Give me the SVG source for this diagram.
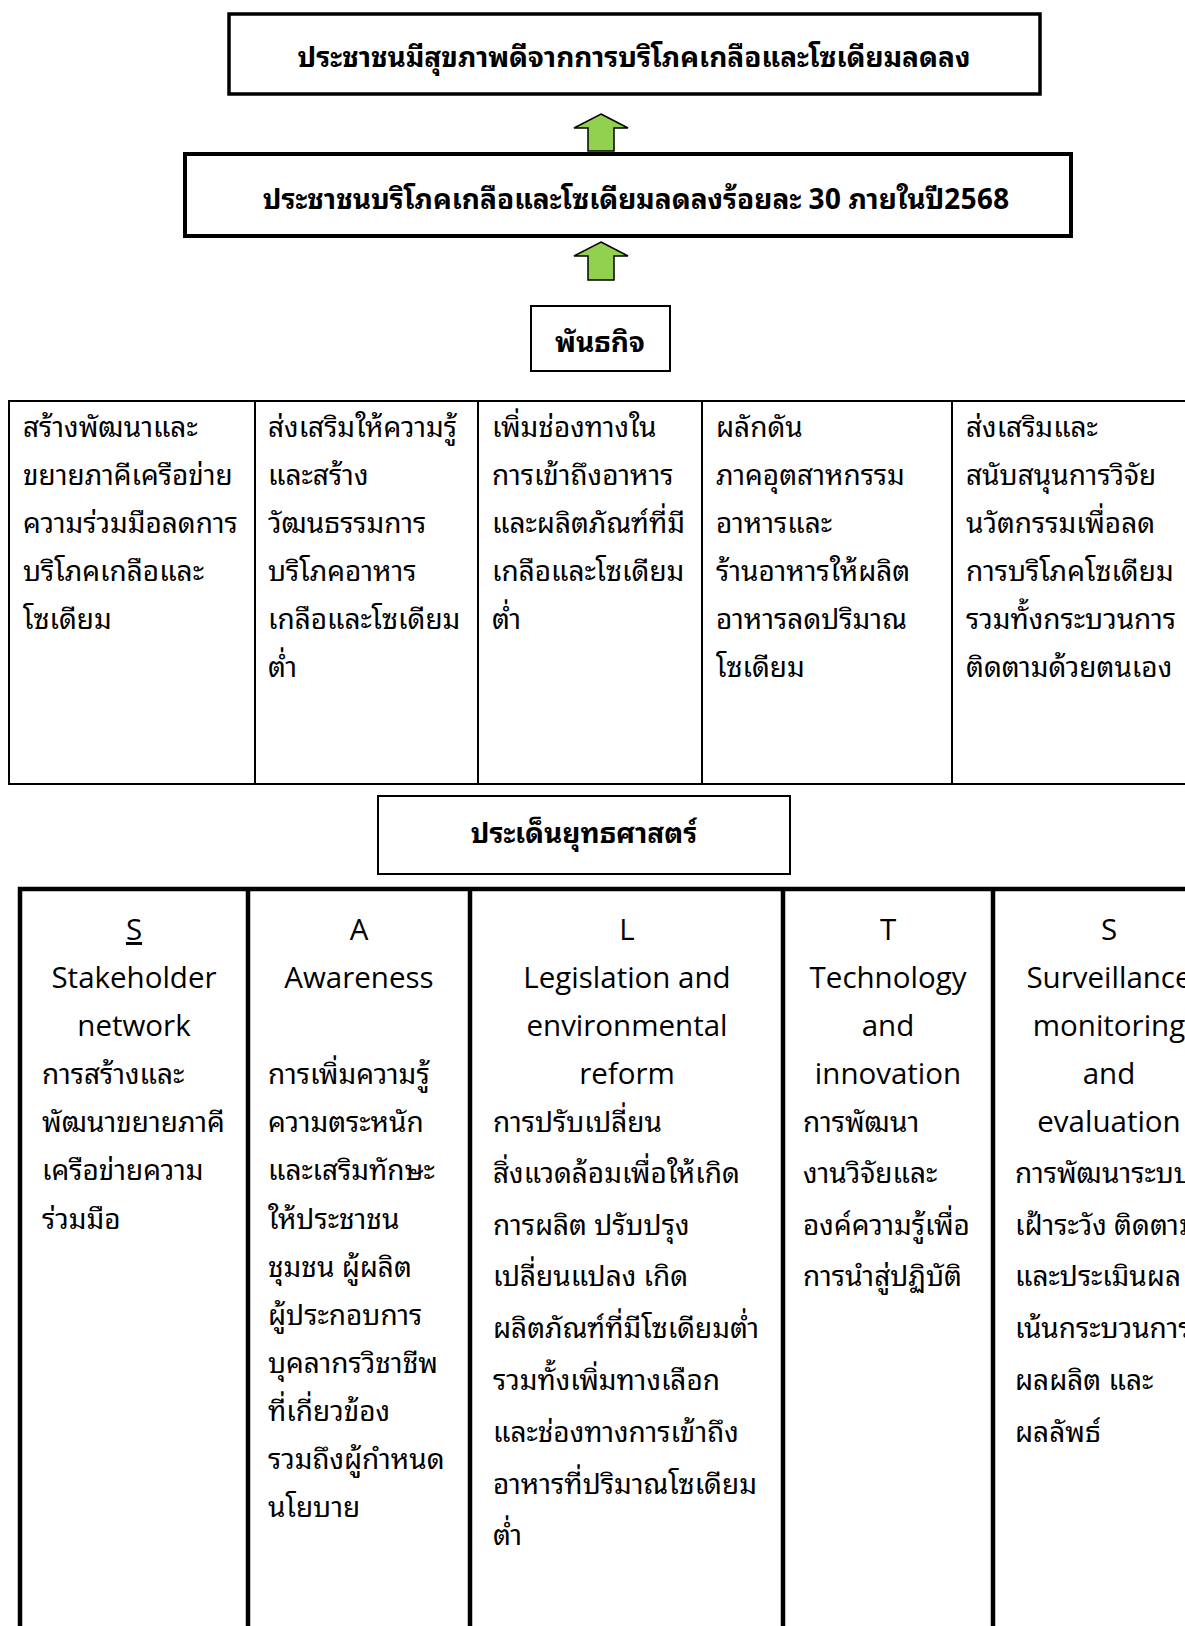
<svg xmlns="http://www.w3.org/2000/svg" width="1185" height="1626" viewBox="0 0 1185 1626">
<style>
.bg{fill:#ffffff}
.box{fill:#ffffff;stroke:#000000}
.ttl{font-family:"Noto Sans Thai Looped","Noto Serif Thai","Loma","Garuda","Noto Sans Thai","Noto Sans",sans-serif;font-weight:bold;font-size:28px;fill:#000;text-anchor:middle}
.th{font-family:"Noto Sans Thai Looped","Noto Serif Thai","Loma","Garuda","Noto Sans Thai","Noto Sans",sans-serif;font-size:28px;fill:#000}
.en{font-family:"Open Sans","Noto Sans",sans-serif;font-size:29.5px;fill:#000;text-anchor:middle}
.grid{stroke:#000;fill:none}
.arrow{fill:#92D050;stroke:#000;stroke-width:1.5;stroke-linejoin:miter}
</style>
<rect class="bg" x="0" y="0" width="1185" height="1626"/>

<g id="goal">
<rect class="box" x="229" y="14" width="811" height="80" stroke-width="3.5"/>
<text class="ttl" x="634" y="67">ประชาชนมีสุขภาพดีจากการบริโภคเกลือและโซเดียมลดลง</text>
</g>

<g id="target">
<rect class="box" x="185" y="154" width="886" height="82" stroke-width="4"/>
<text class="ttl" x="636" y="209">ประชาชนบริโภคเกลือและโซเดียมลดลงร้อยละ 30 ภายในปี2568</text>
</g>

<g id="mission-header">
<rect class="box" x="531" y="306" width="139" height="65" stroke-width="2"/>
<text class="ttl" x="600" y="352">พันธกิจ</text>
</g>

<g id="connectors">
<path class="arrow" d="M601,114 L628,128 L614,128 L614,151 L588,151 L588,128 L574,128 Z"/>
<path class="arrow" d="M601,242 L628,256 L614,256 L614,280 L588,280 L588,256 L574,256 Z"/>
</g>

<g id="mission-table">
<rect class="grid" x="9" y="401" width="1200" height="383" stroke-width="2"/>
<line class="grid" x1="255" y1="401" x2="255" y2="784" stroke-width="2"/>
<line class="grid" x1="478" y1="401" x2="478" y2="784" stroke-width="2"/>
<line class="grid" x1="702" y1="401" x2="702" y2="784" stroke-width="2"/>
<line class="grid" x1="952" y1="401" x2="952" y2="784" stroke-width="2"/>
</g>

<g id="mission-1">
<text class="th" x="23" y="437">สร้างพัฒนาและ</text>
<text class="th" x="23" y="485">ขยายภาคีเครือข่าย</text>
<text class="th" x="23" y="533">ความร่วมมือลดการ</text>
<text class="th" x="23" y="581">บริโภคเกลือและ</text>
<text class="th" x="23" y="629">โซเดียม</text>
</g>
<g id="mission-2">
<text class="th" x="268" y="437">ส่งเสริมให้ความรู้</text>
<text class="th" x="268" y="485">และสร้าง</text>
<text class="th" x="268" y="533">วัฒนธรรมการ</text>
<text class="th" x="268" y="581">บริโภคอาหาร</text>
<text class="th" x="268" y="629">เกลือและโซเดียม</text>
<text class="th" x="268" y="677">ต่ำ</text>
</g>
<g id="mission-3">
<text class="th" x="492" y="437">เพิ่มช่องทางใน</text>
<text class="th" x="492" y="485">การเข้าถึงอาหาร</text>
<text class="th" x="492" y="533">และผลิตภัณฑ์ที่มี</text>
<text class="th" x="492" y="581">เกลือและโซเดียม</text>
<text class="th" x="492" y="629">ต่ำ</text>
</g>
<g id="mission-4">
<text class="th" x="716" y="437">ผลักดัน</text>
<text class="th" x="716" y="485">ภาคอุตสาหกรรม</text>
<text class="th" x="716" y="533">อาหารและ</text>
<text class="th" x="716" y="581">ร้านอาหารให้ผลิต</text>
<text class="th" x="716" y="629">อาหารลดปริมาณ</text>
<text class="th" x="716" y="677">โซเดียม</text>
</g>
<g id="mission-5">
<text class="th" x="966" y="437">ส่งเสริมและ</text>
<text class="th" x="966" y="485">สนับสนุนการวิจัย</text>
<text class="th" x="966" y="533">นวัตกรรมเพื่อลด</text>
<text class="th" x="966" y="581">การบริโภคโซเดียม</text>
<text class="th" x="966" y="629">รวมทั้งกระบวนการ</text>
<text class="th" x="966" y="677">ติดตามด้วยตนเอง</text>
</g>

<g id="strategy-header">
<rect class="box" x="378" y="796" width="412" height="78" stroke-width="2"/>
<text class="ttl" x="584" y="843">ประเด็นยุทธศาสตร์</text>
</g>

<g id="strategy-table">
<rect class="grid" x="20" y="889" width="1200" height="800" stroke-width="4.5"/>
<line class="grid" x1="248" y1="889" x2="248" y2="1626" stroke-width="4.5"/>
<line class="grid" x1="470" y1="889" x2="470" y2="1626" stroke-width="4.5"/>
<line class="grid" x1="783" y1="889" x2="783" y2="1626" stroke-width="4.5"/>
<line class="grid" x1="993" y1="889" x2="993" y2="1626" stroke-width="4.5"/>
</g>

<g id="strategy-S1">
<text class="en" x="134" y="940" text-decoration="underline">S</text>
<text class="en" x="134" y="988">Stakeholder</text>
<text class="en" x="134" y="1036">network</text>
<text class="th" x="42" y="1084">การสร้างและ</text>
<text class="th" x="42" y="1132">พัฒนาขยายภาคี</text>
<text class="th" x="42" y="1180">เครือข่ายความ</text>
<text class="th" x="42" y="1229">ร่วมมือ</text>
</g>
<g id="strategy-A">
<text class="en" x="359" y="940">A</text>
<text class="en" x="359" y="988">Awareness</text>
<text class="th" x="268" y="1084">การเพิ่มความรู้</text>
<text class="th" x="268" y="1132">ความตระหนัก</text>
<text class="th" x="268" y="1180">และเสริมทักษะ</text>
<text class="th" x="268" y="1229">ให้ประชาชน</text>
<text class="th" x="268" y="1277">ชุมชน ผู้ผลิต</text>
<text class="th" x="268" y="1325">ผู้ประกอบการ</text>
<text class="th" x="268" y="1373">บุคลากรวิชาชีพ</text>
<text class="th" x="268" y="1421">ที่เกี่ยวข้อง</text>
<text class="th" x="268" y="1469">รวมถึงผู้กำหนด</text>
<text class="th" x="268" y="1517">นโยบาย</text>
</g>
<g id="strategy-L">
<text class="en" x="627" y="940">L</text>
<text class="en" x="627" y="988">Legislation and</text>
<text class="en" x="627" y="1036">environmental</text>
<text class="en" x="627" y="1084">reform</text>
<text class="th" x="493" y="1132">การปรับเปลี่ยน</text>
<text class="th" x="493" y="1183">สิ่งแวดล้อมเพื่อให้เกิด</text>
<text class="th" x="493" y="1235">การผลิต ปรับปรุง</text>
<text class="th" x="493" y="1286">เปลี่ยนแปลง เกิด</text>
<text class="th" x="493" y="1338">ผลิตภัณฑ์ที่มีโซเดียมต่ำ</text>
<text class="th" x="493" y="1390">รวมทั้งเพิ่มทางเลือก</text>
<text class="th" x="493" y="1442">และช่องทางการเข้าถึง</text>
<text class="th" x="493" y="1494">อาหารที่ปริมาณโซเดียม</text>
<text class="th" x="493" y="1545">ต่ำ</text>
</g>
<g id="strategy-T">
<text class="en" x="888" y="940">T</text>
<text class="en" x="888" y="988">Technology</text>
<text class="en" x="888" y="1036">and</text>
<text class="en" x="888" y="1084">innovation</text>
<text class="th" x="803" y="1132">การพัฒนา</text>
<text class="th" x="803" y="1183">งานวิจัยและ</text>
<text class="th" x="803" y="1235">องค์ความรู้เพื่อ</text>
<text class="th" x="803" y="1286">การนำสู่ปฏิบัติ</text>
</g>
<g id="strategy-S2">
<text class="en" x="1109" y="940">S</text>
<text class="en" x="1109" y="988">Surveillance</text>
<text class="en" x="1109" y="1036">monitoring</text>
<text class="en" x="1109" y="1084">and</text>
<text class="en" x="1109" y="1132">evaluation</text>
<text class="th" x="1015" y="1183">การพัฒนาระบบ</text>
<text class="th" x="1015" y="1235">เฝ้าระวัง ติดตาม</text>
<text class="th" x="1015" y="1286">และประเมินผล</text>
<text class="th" x="1015" y="1338">เน้นกระบวนการ</text>
<text class="th" x="1015" y="1390">ผลผลิต และ</text>
<text class="th" x="1015" y="1442">ผลลัพธ์</text>
</g>
</svg>
